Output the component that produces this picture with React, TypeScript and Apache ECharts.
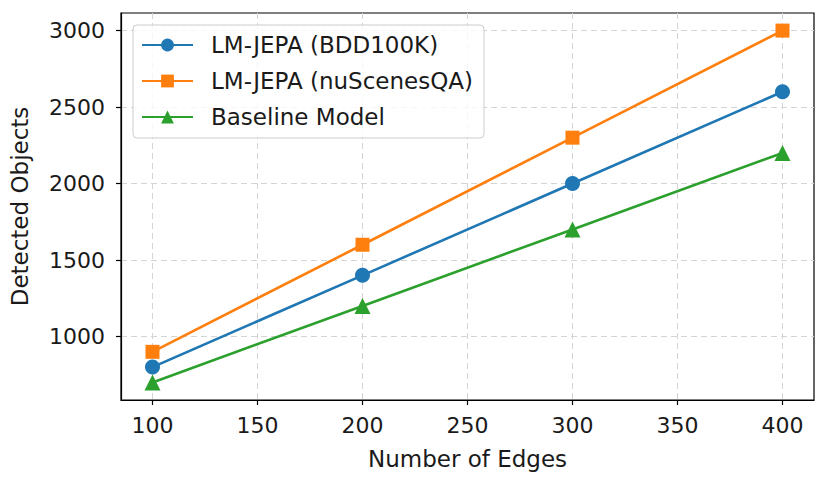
import React, { useEffect, useRef } from "react";
import * as echarts from "echarts";

const edges = [100, 200, 300, 400];
const bdd100k = [800, 1400, 2000, 2600];
const nuscenes = [900, 1600, 2300, 3000];
const baseline = [700, 1200, 1700, 2200];
const xTicks = [100, 150, 200, 250, 300, 350, 400];
const yTicks = [1000, 1500, 2000, 2500, 3000];
const seriesNames = ["LM-JEPA (BDD100K)", "LM-JEPA (nuScenesQA)", "Baseline Model"];

const FONT = "DejaVu Sans";

export default function App() {
  const ref = useRef<HTMLDivElement>(null);
  useEffect(() => {
    if (!ref.current) return;
    const chart = echarts.init(ref.current, null, { renderer: "svg" });
    const pair = (ys: number[]) => edges.map((x, i) => [x, ys[i]]);
    const gridLine = { show: true, lineStyle: { color: "#d4d4d4", type: [6, 4], width: 1 } };
    const axisCommon = {
      type: "value" as const,
      axisLine: { show: true, onZero: false, lineStyle: { color: "#000", width: 1.2 } },
      axisTick: { show: true, inside: false, length: 5, lineStyle: { color: "#000", width: 1.2 } },
      splitLine: gridLine,
      nameTextStyle: { fontFamily: FONT, fontSize: 23, color: "#1a1a1a" },
    };
    chart.setOption({
      animation: false,
      backgroundColor: "#fff",
      grid: {
        left: 121, top: 13, width: 693, height: 387,
        show: true, borderColor: "#000", borderWidth: 1.2,
        containLabel: false, outerBoundsMode: "none",
      },
      xAxis: {
        ...axisCommon,
        min: 85, max: 415,
        name: "Number of Edges",
        nameLocation: "middle",
        nameGap: 47,
        axisTick: { ...axisCommon.axisTick, customValues: xTicks },
        axisLabel: { customValues: xTicks, margin: 14, fontFamily: FONT, fontSize: 22, color: "#1a1a1a", formatter: (v: number) => String(v) },
      },
      yAxis: {
        ...axisCommon,
        min: 585, max: 3115,
        name: "Detected Objects",
        nameLocation: "middle",
        nameGap: 90,
        axisTick: { ...axisCommon.axisTick, customValues: yTicks },
        axisLabel: { customValues: yTicks, margin: 16, fontFamily: FONT, fontSize: 22, color: "#1a1a1a", formatter: (v: number) => String(v) },
      },
      legend: {
        left: 133, top: 25, orient: "vertical",
        itemWidth: 51, itemHeight: 16, itemGap: 10,
        padding: [7, 11, 8, 8],
        backgroundColor: "rgba(255,255,255,0.8)",
        borderColor: "#cccccc", borderWidth: 1, borderRadius: 4,
        textStyle: { fontFamily: FONT, fontSize: 23, color: "#1a1a1a", lineHeight: 26, padding: [0, 0, 0, 13] },
        data: seriesNames,
      },
      series: [
        {
          name: seriesNames[0], type: "line", data: pair(bdd100k),
          symbol: "circle", symbolSize: 15,
          lineStyle: { color: "#1f77b4", width: 2.6 }, itemStyle: { color: "#1f77b4" },
        },
        {
          name: seriesNames[1], type: "line", data: pair(nuscenes),
          symbol: "rect", symbolSize: 14,
          lineStyle: { color: "#ff7f0e", width: 2.6 }, itemStyle: { color: "#ff7f0e" },
        },
        {
          name: seriesNames[2], type: "line", data: pair(baseline),
          symbol: "triangle", symbolSize: 16,
          lineStyle: { color: "#2ca02c", width: 2.6 }, itemStyle: { color: "#2ca02c" },
        },
      ],
    });
    return () => chart.dispose();
  }, []);
  return <div ref={ref} style={{ position: "absolute", left: 0, top: 0, width: 829, height: 482 }} />;
}
